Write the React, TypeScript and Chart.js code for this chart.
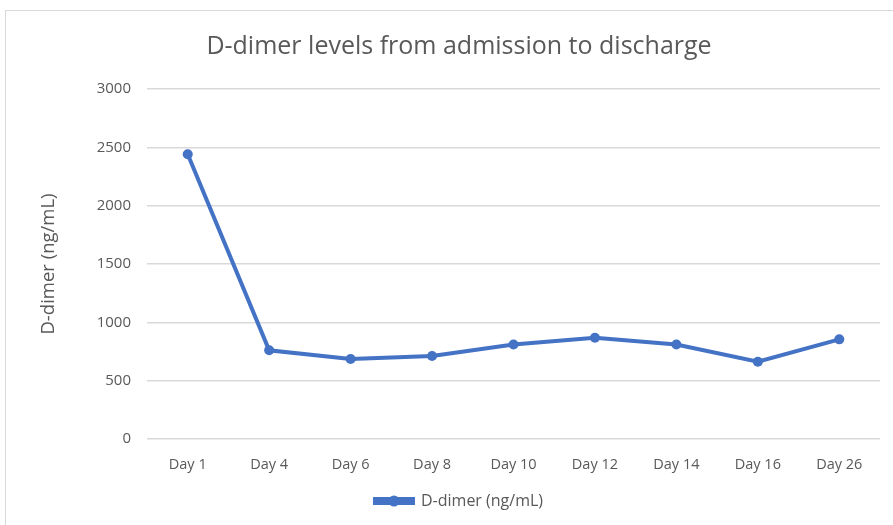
import React, { useEffect, useRef } from "react";
import { Chart, registerables } from "chart.js";

Chart.register(...registerables);

const categories = ["Day 1", "Day 4", "Day 6", "Day 8", "Day 10", "Day 12", "Day 14", "Day 16", "Day 26"];
const dDimer = [2440, 760, 685, 712, 810, 868, 810, 662, 854];
const yTicks = [0, 500, 1000, 1500, 2000, 2500, 3000];

const FONT = "'Open Sans', 'Liberation Sans', sans-serif";
const TEXT = "#595959";
const BLUE = "#4472C4";
const GRID = "#d9d9d9";
const LEGEND_BOX = 38;

const legendDot = {
  id: "legendDot",
  afterDraw(chart: any) {
    const lg = chart.legend;
    if (!lg || !lg.legendHitBoxes || !lg.legendHitBoxes.length) return;
    const b = lg.legendHitBoxes[0];
    const ctx = chart.ctx;
    ctx.save();
    ctx.fillStyle = BLUE;
    ctx.beginPath();
    ctx.arc(b.left + LEGEND_BOX / 2, b.top + b.height / 2, 5.5, 0, Math.PI * 2);
    ctx.fill();
    ctx.restore();
  },
};

export default function App() {
  const ref = useRef<HTMLCanvasElement>(null);
  useEffect(() => {
    if (!ref.current) return;
    const chart = new Chart(ref.current, {
      type: "line",
      data: {
        labels: categories,
        datasets: [
          {
            label: "D-dimer (ng/mL)",
            data: dDimer,
            borderColor: BLUE,
            backgroundColor: BLUE,
            borderWidth: 4,
            pointRadius: 5,
            pointBackgroundColor: BLUE,
            pointBorderColor: BLUE,
            pointBorderWidth: 0,
            tension: 0,
          },
        ],
      },
      plugins: [legendDot],
      options: {
        animation: false,
        responsive: false,
        maintainAspectRatio: false,
        layout: { padding: { left: 38, right: 13, top: 26, bottom: 6 } },
        plugins: {
          title: {
            display: true,
            text: "D-dimer levels from admission to discharge",
            color: TEXT,
            font: { family: FONT, size: 25, weight: "normal" },
            padding: { top: 6, bottom: 27 },
          },
          legend: {
            display: true,
            position: "bottom",
            labels: {
              color: TEXT,
              font: { family: FONT, size: 16 },
              boxWidth: LEGEND_BOX,
              boxHeight: 4,
              padding: 8,
            },
          },
          tooltip: { enabled: false },
        },
        scales: {
          x: {
            offset: true,
            grid: { display: false, drawTicks: false },
            border: { display: false },
            ticks: { color: TEXT, font: { family: FONT, size: 14.5 }, padding: 17 },
            afterFit(scale: any) {
              scale.height = 46;
            },
          },
          y: {
            min: 0,
            max: 3000,
            afterBuildTicks(scale: any) {
              scale.ticks = yTicks.map((v) => ({ value: v }));
            },
            grid: { color: GRID, lineWidth: 1.5, drawTicks: false },
            border: { display: false },
            ticks: {
              color: TEXT,
              font: { family: FONT, size: 15 },
              padding: 16,
              callback: (v: any) => String(v),
            },
            title: {
              display: true,
              text: "D-dimer (ng/mL)",
              color: TEXT,
              font: { family: FONT, size: 18.5 },
              padding: { top: 0, bottom: 10 },
            },
            afterFit(scale: any) {
              scale.width = 109;
            },
          },
        },
      },
    });
    return () => chart.destroy();
  }, []);
  return (
    <div style={{ position: "fixed", left: 0, top: 0, width: 893, height: 525, overflow: "hidden", background: "#fff" }}>
      <div
        style={{
          position: "absolute",
          left: 5,
          top: 10,
          width: 950,
          height: 600,
          border: "1px solid #d9d9d9",
        }}
      />
      <canvas ref={ref} width={893} height={525} style={{ position: "absolute", left: 0, top: 0 }} />
    </div>
  );
}
